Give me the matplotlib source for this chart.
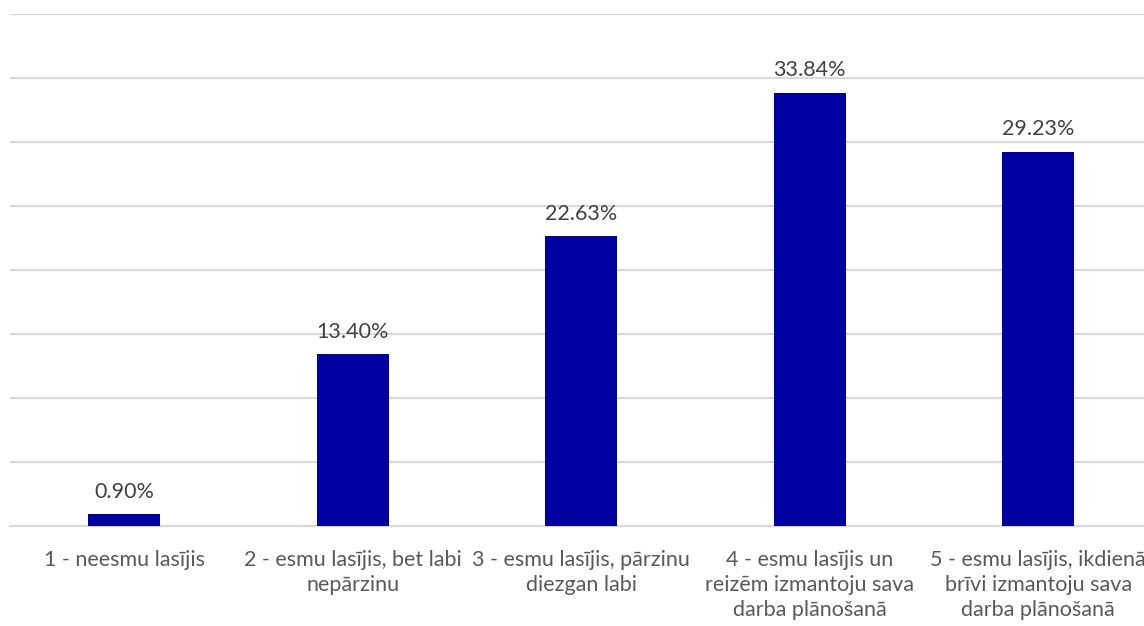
import matplotlib
matplotlib.use("Agg")
import matplotlib.pyplot as plt

# categories and values (percent)
categories = [
    "1 - neesmu lasījis",
    "2 - esmu lasījis, bet labi\nnepārzinu",
    "3 - esmu lasījis, pārzinu\ndiezgan labi",
    "4 - esmu lasījis un\nreizēm izmantoju sava\ndarba plānošanā",
    "5 - esmu lasījis, ikdienā\nbrīvi izmantoju sava\ndarba plānošanā",
]
values = [0.90, 13.40, 22.63, 33.84, 29.23]

plt.rcParams['font.family'] = ['Lato', 'DejaVu Sans']

fig = plt.figure(figsize=(11.44, 6.26), dpi=100)
ax = fig.add_axes([10 / 1144, 100 / 626, 1142.5 / 1144, 512 / 626])

x = range(len(categories))
bars = ax.bar(x, values, width=0.315, color="#0000A0", zorder=3)

for xi, v in zip(x, values):
    ax.annotate("%.2f%%" % v, (xi, v), xytext=(0, 9), textcoords="offset points",
                ha="center", va="bottom", fontsize=15.5, color="#404040")

ax.set_xlim(-0.5, 4.5)
ax.set_ylim(0, 40)
ax.set_yticks(range(0, 41, 5))
ax.yaxis.grid(True, color="#D9D9D9", linewidth=1.5, zorder=0)
ax.tick_params(axis="y", left=False, labelleft=False)
ax.tick_params(axis="x", length=0, pad=17.5)
ax.set_xticks(list(x))
ax.set_xticklabels(categories, fontsize=15.5, color="#595959", linespacing=1.3)
for s in ["top", "right", "left"]:
    ax.spines[s].set_visible(False)
ax.spines["bottom"].set_color("#D9D9D9")
ax.spines["bottom"].set_linewidth(1.5)

fig.savefig("out.png", dpi=100)
